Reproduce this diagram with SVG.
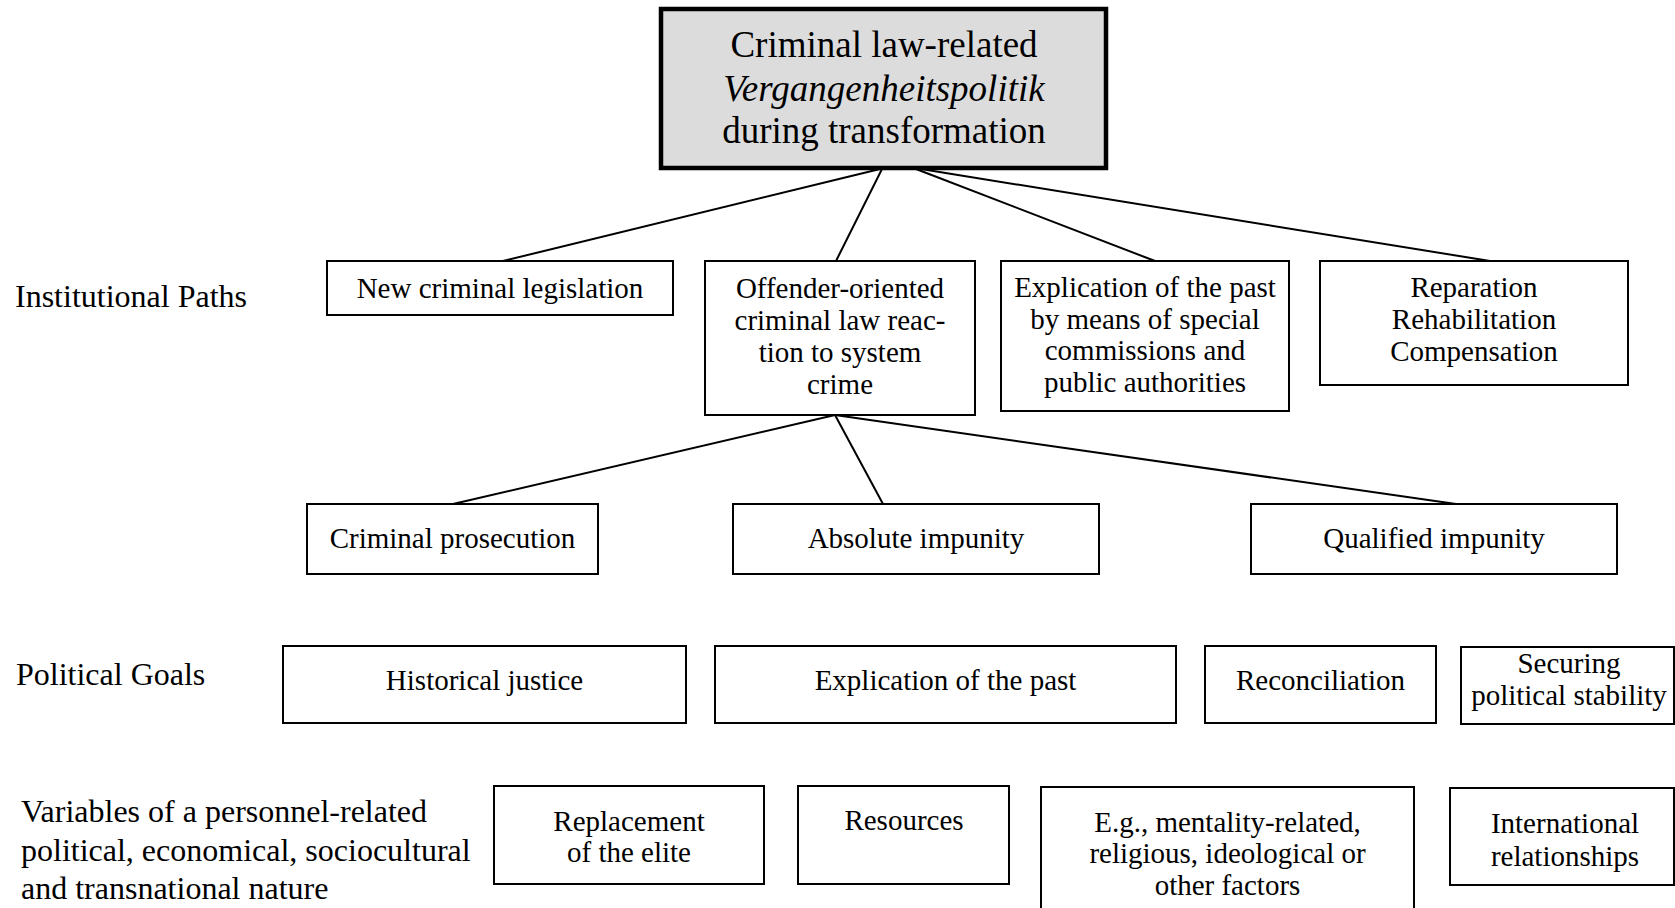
<svg xmlns="http://www.w3.org/2000/svg" width="1675" height="908" viewBox="0 0 1675 908">
<style>
  .box { fill: #ffffff; stroke: #000000; stroke-width: 2; }
  .main { fill: #dcdcdc; stroke: #000000; stroke-width: 4.5; }
  .t { font-family: "Liberation Serif", "Times New Roman", serif; font-size: 29px; fill: #000000; text-anchor: middle; }
  .tm { font-family: "Liberation Serif", "Times New Roman", serif; font-size: 37px; fill: #000000; text-anchor: middle; }
  .lbl { font-family: "Liberation Serif", "Times New Roman", serif; font-size: 32px; fill: #000000; }
  .conn line { stroke: #000000; stroke-width: 2; }
</style>
<rect x="0" y="0" width="1675" height="908" fill="#ffffff"/>

<g id="connectors" class="conn">
  <line x1="880" y1="169" x2="503" y2="261"/>
  <line x1="882" y1="169" x2="836" y2="261"/>
  <line x1="916" y1="169" x2="1155" y2="261"/>
  <line x1="921" y1="169" x2="1490" y2="261"/>
  <line x1="835" y1="415" x2="453" y2="504"/>
  <line x1="835" y1="415" x2="883" y2="504"/>
  <line x1="835" y1="415" x2="1456" y2="504"/>
</g>

<g id="labels">
  <text class="lbl" x="15" y="307">Institutional Paths</text>
  <text class="lbl" x="16" y="685">Political Goals</text>
  <text class="lbl" x="21" y="822">Variables of a personnel-related</text>
  <text class="lbl" x="21" y="861">political, economical, sociocultural</text>
  <text class="lbl" x="21" y="899">and transnational nature</text>
</g>

<g id="main">
  <rect class="main" x="661" y="9" width="445" height="159"/>
  <text class="tm" x="884" y="57">Criminal law-related</text>
  <text class="tm" x="884" y="100.5" font-style="italic">Vergangenheitspolitik</text>
  <text class="tm" x="884" y="143">during transformation</text>
</g>

<g id="new-legislation">
  <rect class="box" x="327" y="261" width="346" height="54"/>
  <text class="t" x="500" y="297.5">New criminal legislation</text>
</g>

<g id="offender">
  <rect class="box" x="705" y="261" width="270" height="154"/>
  <text class="t" x="840" y="298">Offender-oriented</text>
  <text class="t" x="840" y="330">criminal law reac-</text>
  <text class="t" x="840" y="362">tion to system</text>
  <text class="t" x="840" y="394">crime</text>
</g>

<g id="explication-commissions">
  <rect class="box" x="1001" y="261" width="288" height="150"/>
  <text class="t" x="1145" y="297">Explication of the past</text>
  <text class="t" x="1145" y="329">by means of special</text>
  <text class="t" x="1145" y="360">commissions and</text>
  <text class="t" x="1145" y="392">public authorities</text>
</g>

<g id="reparation">
  <rect class="box" x="1320" y="261" width="308" height="124"/>
  <text class="t" x="1474" y="297">Reparation</text>
  <text class="t" x="1474" y="329">Rehabilitation</text>
  <text class="t" x="1474" y="361">Compensation</text>
</g>

<g id="prosecution">
  <rect class="box" x="307" y="504" width="291" height="70"/>
  <text class="t" x="452.5" y="548">Criminal prosecution</text>
</g>

<g id="absolute-impunity">
  <rect class="box" x="733" y="504" width="366" height="70"/>
  <text class="t" x="916" y="548">Absolute impunity</text>
</g>

<g id="qualified-impunity">
  <rect class="box" x="1251" y="504" width="366" height="70"/>
  <text class="t" x="1434" y="548">Qualified impunity</text>
</g>

<g id="historical-justice">
  <rect class="box" x="283" y="646" width="403" height="77"/>
  <text class="t" x="484.5" y="690">Historical justice</text>
</g>

<g id="explication-goal">
  <rect class="box" x="715" y="646" width="461" height="77"/>
  <text class="t" x="945.5" y="690">Explication of the past</text>
</g>

<g id="reconciliation">
  <rect class="box" x="1205" y="646" width="231" height="77"/>
  <text class="t" x="1320.5" y="690">Reconciliation</text>
</g>

<g id="stability">
  <rect class="box" x="1461" y="647" width="213" height="77"/>
  <text class="t" x="1569" y="673">Securing</text>
  <text class="t" x="1569" y="705">political stability</text>
</g>

<g id="elite">
  <rect class="box" x="494" y="786" width="270" height="98"/>
  <text class="t" x="629" y="831">Replacement</text>
  <text class="t" x="629" y="862">of the elite</text>
</g>

<g id="resources">
  <rect class="box" x="798" y="786" width="211" height="98"/>
  <text class="t" x="904" y="830">Resources</text>
</g>

<g id="other-factors">
  <rect class="box" x="1041" y="787" width="373" height="130"/>
  <text class="t" x="1227.5" y="832">E.g., mentality-related,</text>
  <text class="t" x="1227.5" y="863">religious, ideological or</text>
  <text class="t" x="1227.5" y="895">other factors</text>
</g>

<g id="international">
  <rect class="box" x="1450" y="788" width="224" height="97"/>
  <text class="t" x="1565" y="833">International</text>
  <text class="t" x="1565" y="866">relationships</text>
</g>
</svg>
